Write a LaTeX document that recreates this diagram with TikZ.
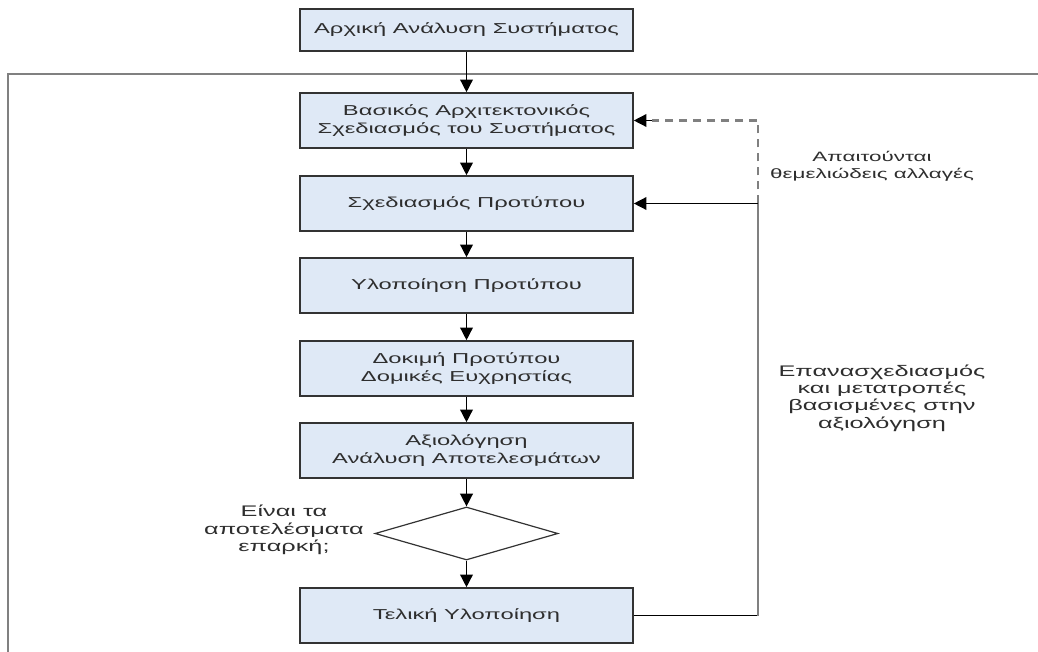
\documentclass[tikz,border=0pt]{standalone}
\usepackage{fontspec}
\setmainfont[FakeStretch=1.65]{Liberation Sans}
\usetikzlibrary{arrows.meta,shapes,positioning}

\definecolor{boxblue}{HTML}{DFE9F6}
\definecolor{framegray}{HTML}{808080}
\definecolor{txtgray}{HTML}{2E2E2E}

\tikzset{
  stagebox/.style={rectangle, draw=black!80, line width=1.2pt, fill=boxblue,
    minimum width=249.75pt, minimum height=41.25pt, align=center,
    text=txtgray, font=\fontsize{10.8}{13}\selectfont},
  decision/.style={diamond, draw=black!80, line width=0.9pt, fill=white,
    inner sep=0pt, minimum width=137.25pt, minimum height=39.75pt},
  note/.style={align=center, text=txtgray, font=\fontsize{11.5}{13}\selectfont},
  flow/.style={-{Triangle[length=9.5pt,width=9.5pt]}, line width=1.1pt},
}

\begin{document}
\begin{tikzpicture}[x=0.75pt,y=-0.75pt]
  % page size of the reference
  \useasboundingbox (0,0) rectangle (1038,652);

  % outer frame (top and left side only)
  \draw[framegray, line width=1.6pt] (1038,74) -- (8,74) -- (8,652);

  % the stages, top to bottom
  \node[stagebox, minimum height=31.5pt] (analysis) at (466.5,30) {Αρχική Ανάλυση Συστήματος};
  \node[stagebox] (archdesign) at (466.5,120.5) {Βασικός Αρχιτεκτονικός\\Σχεδιασμός του Συστήματος};
  \node[stagebox] (protodesign) at (466.5,203.5) {Σχεδιασμός Προτύπου};
  \node[stagebox] (protoimpl) at (466.5,285.5) {Υλοποίηση Προτύπου};
  \node[stagebox] (prototest) at (466.5,368.5) {Δοκιμή Προτύπου\\Δομικές Ευχρηστίας};
  \node[stagebox] (evaluation) at (466.5,450.5) {Αξιολόγηση\\Ανάλυση Αποτελεσμάτων};
  \node[decision] (enough) at (466.5,533.5) {};
  \node[stagebox] (finalimpl) at (466.5,615.5) {Τελική Υλοποίηση};

  % question beside the diamond
  \node[note] (question) at (284,530) {Είναι τα\\αποτελέσματα\\επαρκή;};

  % main flow
  \draw[flow] (analysis) -- (archdesign);
  \draw[flow] (archdesign) -- (protodesign);
  \draw[flow] (protodesign) -- (protoimpl);
  \draw[flow] (protoimpl) -- (prototest);
  \draw[flow] (prototest) -- (evaluation);
  \draw[flow] (evaluation) -- (enough);
  \draw[flow] (enough) -- (finalimpl);

  % feedback loop on the right
  \coordinate (loopbot) at (758,615.5);
  \coordinate (loopmid) at (758,203.5);
  \coordinate (looptop) at (758,120.5);
  \draw[line width=1.1pt] (finalimpl.east) -- (loopbot);
  \draw[framegray, line width=1.6pt] (loopbot) -- (loopmid);
  \draw[flow] (loopmid) -- (protodesign.east);
  \draw[framegray, line width=1.6pt, dash pattern=on 6pt off 4.5pt] (loopmid) -- (looptop) -- ([xshift=14pt]archdesign.east);
  \draw[flow] ([xshift=14pt]archdesign.east) -- (archdesign.east);

  % loop labels
  \node[note, font=\fontsize{10.2}{13}\selectfont] (fundamental) at (872,166) {Απαιτούνται\\θεμελιώδεις αλλαγές};
  \node[note] (redesign) at (882,398) {Επανασχεδιασμός\\και μετατροπές\\βασισμένες στην\\αξιολόγηση};
\end{tikzpicture}
\end{document}
